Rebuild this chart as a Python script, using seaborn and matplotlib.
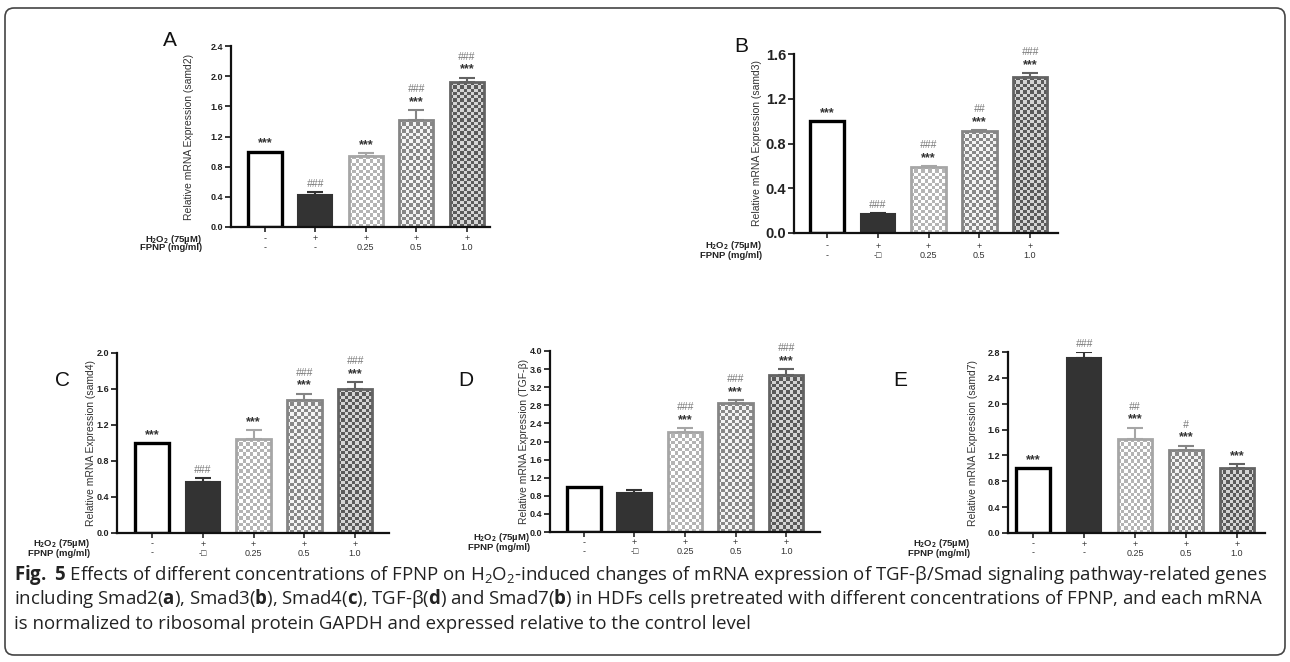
import numpy as np
import matplotlib
matplotlib.use('Agg')
import matplotlib.pyplot as plt
import seaborn as sns
from matplotlib.colors import ListedColormap
from matplotlib.patches import FancyBboxPatch
from matplotlib.transforms import IdentityTransform, blended_transform_factory

# data
groups = ['Control', 'H2O2', 'H2O2+FPNP0.25', 'H2O2+FPNP0.5', 'H2O2+FPNP1.0']
h2o2_signs = ['-', '+', '+', '+', '+']
fpnp_doses = ['-', '-', '0.25', '0.5', '1.0']
fpnp_doses_box = ['-', '-\u25a1', '0.25', '0.5', '1.0']

smad2_mean = [1.00, 0.43, 0.94, 1.42, 1.92]
smad2_err = [0.0, 0.04, 0.04, 0.13, 0.06]
smad2_stars = ['***', '', '***', '***', '***']
smad2_hash = ['', '###', '', '###', '###']

smad3_mean = [1.00, 0.17, 0.59, 0.91, 1.39]
smad3_err = [0.0, 0.01, 0.01, 0.01, 0.04]
smad3_stars = ['***', '', '***', '***', '***']
smad3_hash = ['', '###', '###', '##', '###']

smad4_mean = [1.00, 0.57, 1.04, 1.48, 1.60]
smad4_err = [0.0, 0.04, 0.10, 0.07, 0.08]
smad4_stars = ['***', '', '***', '***', '***']
smad4_hash = ['', '###', '', '###', '###']

tgfb_mean = [1.00, 0.87, 2.21, 2.84, 3.47]
tgfb_err = [0.0, 0.05, 0.09, 0.08, 0.13]
tgfb_stars = ['', '', '***', '***', '***']
tgfb_hash = ['', '', '###', '###', '###']

smad7_mean = [1.00, 2.71, 1.45, 1.29, 1.01]
smad7_err = [0.0, 0.09, 0.18, 0.06, 0.06]
smad7_stars = ['***', '', '***', '***', '***']
smad7_hash = ['', '###', '##', '#', '']

W, H = 1290, 662

sns.set_style('white')
plt.rcParams['font.family'] = ['Liberation Sans', 'DejaVu Sans']
plt.rcParams['mathtext.fontset'] = 'custom'
plt.rcParams['mathtext.rm'] = 'Open Sans'
plt.rcParams['mathtext.it'] = 'Open Sans:italic'
plt.rcParams['mathtext.bf'] = 'Open Sans:bold'

fig = plt.figure(figsize=(W / 100, H / 100), dpi=100)

# bar looks: open, solid dark, then three checkerboards getting darker
edge_cols = ['#000000', '#333333', '#a6a6a6', '#858585', '#636363']
edge_w = [2.4, 1.5, 2.0, 2.0, 2.0]
solid = ['white', '#333333', None, None, None]
checks = [None, None, ('#ffffff', '#b4b4b4'), ('#f4f4f4', '#888888'), ('#d4d4d4', '#5a5a5a')]


def checker(ax, patch, c1, c2, cell=3.3):
    bb = patch.get_window_extent()
    nx = max(1, int(round(bb.width / cell)))
    ny = max(1, int(round(bb.height / cell)))
    grid = np.indices((ny, nx)).sum(axis=0) % 2
    x0, y0 = patch.get_x(), patch.get_y()
    im = ax.imshow(grid, cmap=ListedColormap([c1, c2]), origin='lower',
                   extent=(x0, x0 + patch.get_width(), y0, y0 + patch.get_height()),
                   aspect='auto', interpolation='nearest', zorder=0.9)
    im.set_clip_path(patch)


def panel(rect, xlim, ymax, tick_fs, letter, letter_xy, ylabel, ylab_dx,
          mean, err, stars, hashes, doses, rows, lab_dx, lab_rows):
    l, t, r, b = rect
    wpx, hpx = r - l, b - t
    ax = fig.add_axes([l / W, 1 - b / H, wpx / W, hpx / H])
    sns.barplot(x=groups, y=mean, ax=ax, color='white', width=0.68,
                errorbar=None, saturation=1)
    ax.set_xlim(*xlim)
    ax.set_ylim(0, ymax)

    for i, p in enumerate(ax.patches):
        p.set_edgecolor(edge_cols[i])
        p.set_linewidth(edge_w[i])
        p.set_zorder(1)
        if solid[i] is not None:
            p.set_facecolor(solid[i])
        else:
            p.set_facecolor('none')
            checker(ax, p, *checks[i])
    ax.set_xlim(*xlim)
    ax.set_ylim(0, ymax)

    for i in range(5):
        if err[i] > 0:
            ax.errorbar(i, mean[i], yerr=[[0], [err[i]]], fmt='none',
                        ecolor=edge_cols[i], elinewidth=1.5, capsize=6,
                        capthick=1.5, zorder=2)
        top = mean[i] + err[i]
        if stars[i]:
            ax.annotate(stars[i], xy=(i, top), xytext=(0, 1.5), textcoords='offset points',
                        ha='center', va='bottom', fontsize=9, fontweight='bold',
                        color='#333333', annotation_clip=False)
        if hashes[i]:
            off = 11.5 if stars[i] else 2
            ax.annotate(hashes[i], xy=(i, top), xytext=(0, off), textcoords='offset points',
                        ha='center', va='bottom', fontsize=7.5, fontstyle='italic',
                        color='#777777', annotation_clip=False)

    sns.despine(ax=ax)
    for s in ['left', 'bottom']:
        ax.spines[s].set_linewidth(1.6)
        ax.spines[s].set_color('#111111')
    ticks = np.arange(0, ymax + 0.01, 0.4)
    ax.set_yticks(ticks)
    ax.set_yticklabels([f'{v:.1f}' for v in ticks],
                       fontsize=tick_fs, fontweight='bold', color='#222222')
    ax.tick_params(axis='y', direction='out', length=4, width=1.3, pad=1.5, left=True)
    ax.set_xticks(range(5))
    ax.set_xticklabels([])
    ax.tick_params(axis='x', direction='out', length=3.5, width=1.2, bottom=True)
    ax.set_xlabel('')
    ax.set_ylabel(ylabel, fontsize=7.5, color='#333333')
    ax.yaxis.set_label_coords(-(ylab_dx - 4) / wpx, 0.5)

    tr = blended_transform_factory(ax.transData, ax.transAxes)
    for i in range(5):
        ax.text(i, -rows[0] / hpx, h2o2_signs[i], transform=tr, ha='center', va='center',
                fontsize=6.5, color='#333333', clip_on=False)
        ax.text(i, -rows[1] / hpx, doses[i], transform=tr, ha='center', va='center',
                fontsize=6.5, color='#333333', clip_on=False)
    fig.text((l - lab_dx) / W, 1 - (b + lab_rows[0]) / H,
             r'H$_\mathbf{2}$O$_\mathbf{2}$ (75µM)', ha='right', va='center',
             fontsize=6.8, fontweight='bold', color='#222222')
    fig.text((l - lab_dx) / W, 1 - (b + lab_rows[1]) / H, 'FPNP (mg/ml)',
             ha='right', va='center', fontsize=6.8, fontweight='bold', color='#222222')
    fig.text(letter_xy[0] / W, 1 - letter_xy[1] / H, letter, ha='center', va='center',
             fontsize=15, color='#111111')
    return ax


panel((231, 46, 490, 227), (-0.67, 4.46), 2.4, 6.5, 'A', (170, 40),
      'Relative mRNA Expression (samd2)', 41,
      smad2_mean, smad2_err, smad2_stars, smad2_hash, fpnp_doses,
      (12, 21), 29, (12, 21))
panel((794, 54, 1058, 233), (-0.65, 4.55), 1.6, 10.5, 'B', (741, 47),
      'Relative mRNA Expression (samd3)', 36,
      smad3_mean, smad3_err, smad3_stars, smad3_hash, fpnp_doses_box,
      (13, 23), 32, (13, 23))
panel((117, 353, 389, 533), (-0.69, 4.67), 2.0, 6.5, 'C', (62, 381),
      'Relative mRNA Expression (samd4)', 25,
      smad4_mean, smad4_err, smad4_stars, smad4_hash, fpnp_doses_box,
      (11, 20), 27, (11, 20))
panel((550, 351, 820, 532), (-0.67, 4.67), 4.0, 6.5, 'D', (466, 381),
      'Relative mRNA Expression (TGF-β)', 25,
      tgfb_mean, tgfb_err, tgfb_stars, tgfb_hash, fpnp_doses_box,
      (11, 20), 20, (5, 16))
panel((1008, 352, 1265, 533), (-0.49, 4.55), 2.8, 6.5, 'E', (900, 381),
      'Relative mRNA Expression (samd7)', 34,
      smad7_mean, smad7_err, smad7_stars, smad7_hash, fpnp_doses,
      (11, 20), 38, (11, 20))

# caption
cap = [
    r'$\mathbf{Fig.\ 5}$ Effects of different concentrations of FPNP on H$_\mathrm{2}$O$_\mathrm{2}$-induced changes '
    r'of mRNA expression of TGF-β/Smad signaling pathway-related genes',
    r'including Smad2($\mathbf{a}$), Smad3($\mathbf{b}$), Smad4($\mathbf{c}$), TGF-β($\mathbf{d}$) and '
    r'Smad7($\mathbf{b}$) in HDFs cells pretreated with different concentrations of FPNP, and each mRNA',
    'is normalized to ribosomal protein GAPDH and expressed relative to the control level',
]
for k, line in enumerate(cap):
    fig.text(14 / W, 1 - (580 + 24.5 * k) / H, line, ha='left', va='baseline',
             fontsize=13.4, family='Open Sans', color='#222222')

fig.patches.append(FancyBboxPatch((5, 7), 1280, 647, boxstyle='round,pad=0,rounding_size=9',
                                  transform=IdentityTransform(), fill=False,
                                  lw=1.2, ec='#444444', figure=fig))

fig.savefig('out.png', dpi=100, facecolor='white')
